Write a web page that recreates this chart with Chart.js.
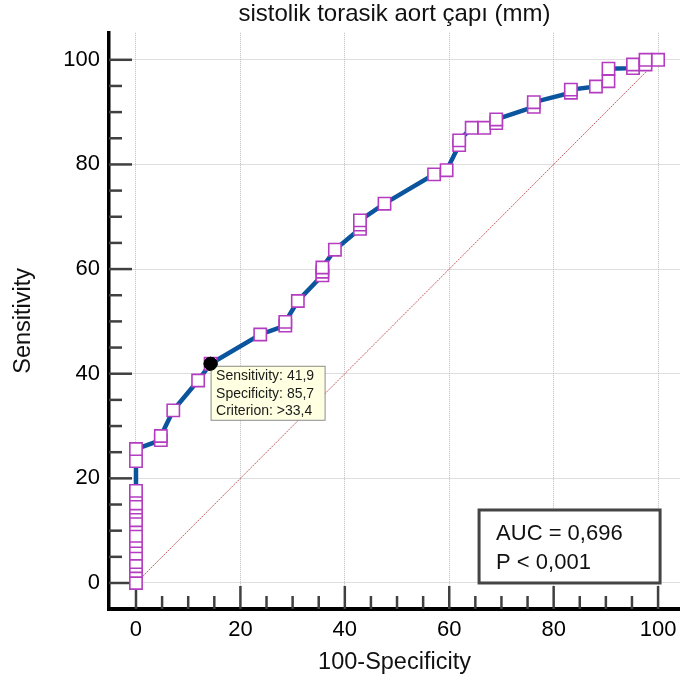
<!DOCTYPE html>
<html lang="tr">
<head>
    <meta charset="UTF-8">
    <title>ROC - sistolik torasik aort çapı</title>
    <script src="https://cdn.jsdelivr.net/npm/chart.js"></script>
    <style>
        body { margin: 0; background: #fff; }
        canvas { display: block; }
    </style>
</head>
<body>

<canvas id="rocChart" width="680" height="686"></canvas>

<script>
    // ROC points (100-Specificity, Sensitivity)
    const rocX = [0, 0, 0, 0, 0, 0, 0, 0, 0, 0, 0, 0, 0, 0, 0, 0, 0,
        4.76, 4.76, 7.14, 11.9, 14.29, 23.8, 28.6, 28.6, 31.0,
        35.7, 35.7, 35.7, 38.1, 42.9, 42.9, 42.9, 47.6, 57.1, 59.5,
        61.9, 61.9, 64.3, 66.7, 69.0, 69.0, 76.2, 76.2, 83.3, 83.3,
        88.1, 90.5, 90.5, 95.2, 95.2, 97.6, 97.6, 100];
    const rocY = [0, 2.3, 3.2, 4.0, 5.6, 7.0, 8.0, 9.0, 11.2, 12.0, 13.6, 14.4, 15.2, 16.9, 17.6, 23.3, 25.6,
        27.3, 28.1, 33.0, 38.7, 41.9, 47.5, 49.2, 49.9, 53.9,
        58.8, 59.5, 60.3, 63.7, 67.7, 68.5, 69.3, 72.5, 78.1, 78.9,
        83.7, 84.6, 87.0, 87.0, 87.9, 88.6, 91.0, 91.9, 93.7, 94.3,
        94.9, 95.9, 98.3, 98.4, 99.1, 99.1, 100, 100];

    const diagX = [0, 100];
    const diagY = [0, 100];

    // selected criterion
    const cutX = [14.29];
    const cutY = [41.9];
    const cutLabels = ['Sensitivity: 41,9', 'Specificity: 85,7', 'Criterion: >33,4'];

    const statLabels = ['AUC = 0,696', 'P < 0,001'];

    const xTicks = [0, 20, 40, 60, 80, 100];
    const yTicks = [0, 20, 40, 60, 80, 100];
    const minorStep = 5;

    const FONT = "'Liberation Sans', Arial, sans-serif";
    Chart.defaults.font.family = FONT;

    const toPoints = (xs, ys) => xs.map((x, i) => ({ x: x, y: ys[i] }));

    // inward tick marks on both axes
    const innerTicks = {
        id: 'innerTicks',
        beforeDatasetsDraw(chart) {
            const { ctx, chartArea, scales } = chart;
            ctx.save();
            ctx.strokeStyle = '#404040';
            ctx.lineWidth = 2.5;
            for (let v = 0; v <= 100; v += minorStep) {
                const len = v % 20 === 0 ? 23 : 13;
                const px = scales.x.getPixelForValue(v);
                ctx.beginPath();
                ctx.moveTo(px, chartArea.bottom);
                ctx.lineTo(px, chartArea.bottom - len);
                ctx.stroke();
                const py = scales.y.getPixelForValue(v);
                ctx.beginPath();
                ctx.moveTo(chartArea.left, py);
                ctx.lineTo(chartArea.left + len, py);
                ctx.stroke();
            }
            ctx.restore();
        }
    };

    // criterion box, AUC box
    const annotations = {
        id: 'annotations',
        afterDatasetsDraw(chart) {
            const { ctx, scales } = chart;
            ctx.save();

            // criterion info box
            const bx = scales.x.getPixelForValue(cutX[0]);
            const by = scales.y.getPixelForValue(cutY[0]) + 2;
            ctx.fillStyle = '#ffffe1';
            ctx.fillRect(bx, by, 114, 54);
            ctx.strokeStyle = '#8c8c8c';
            ctx.lineWidth = 1;
            ctx.strokeRect(bx + 0.5, by + 0.5, 114, 54);
            ctx.fillStyle = '#1a1a1a';
            ctx.font = '14px ' + FONT;
            ctx.textBaseline = 'alphabetic';
            cutLabels.forEach((t, i) => ctx.fillText(t, bx + 5.5, by + 14.5 + i * 17.3));

            // black dot back on top of the box
            chart.getDatasetMeta(0).data[0].draw(ctx);

            // AUC box
            const right = scales.x.getPixelForValue(100) + 2;
            const bottom = scales.y.getPixelForValue(0);
            const w = 181, h = 73;
            ctx.fillStyle = '#fff';
            ctx.fillRect(right - w, bottom - h, w, h);
            ctx.strokeStyle = '#444';
            ctx.lineWidth = 3;
            ctx.strokeRect(right - w, bottom - h, w, h);
            ctx.fillStyle = '#111';
            ctx.font = '22px ' + FONT;
            statLabels.forEach((t, i) => ctx.fillText(t, right - w + 17, bottom - h + 30 + i * 29));

            ctx.restore();
        }
    };

    const ctx = document.getElementById('rocChart').getContext('2d');
    new Chart(ctx, {
        type: 'scatter',
        data: {
            datasets: [
                {
                    label: 'criterion',
                    data: toPoints(cutX, cutY),
                    pointStyle: 'circle',
                    pointRadius: 6.5,
                    backgroundColor: '#000',
                    borderColor: '#000',
                    order: 0
                },
                {
                    label: 'points',
                    data: toPoints(rocX, rocY),
                    pointStyle: 'rect',
                    pointRadius: 8.7,
                    backgroundColor: '#fff',
                    borderColor: '#b43cc0',
                    borderWidth: 1.6,
                    order: 1
                },
                {
                    label: 'ROC',
                    data: toPoints(rocX, rocY),
                    showLine: true,
                    borderColor: '#0b559f',
                    borderWidth: 4.5,
                    pointRadius: 0,
                    tension: 0,
                    order: 2
                },
                {
                    label: 'diagonal',
                    data: toPoints(diagX, diagY),
                    showLine: true,
                    borderColor: 'rgba(185, 65, 65, 0.85)',
                    borderWidth: 1,
                    borderDash: [2, 1],
                    pointRadius: 0,
                    order: 3
                }
            ]
        },
        options: {
            responsive: false,
            animation: false,
            devicePixelRatio: 1,
            layout: { padding: 0, autoPadding: false },
            plugins: {
                legend: { display: false },
                tooltip: { enabled: false },
                title: {
                    display: true,
                    text: 'sistolik torasik aort çapı (mm)',
                    fullSize: false,
                    color: '#111',
                    font: { size: 24, weight: 'normal' },
                    padding: { top: 0, bottom: 4 }
                }
            },
            scales: {
                x: {
                    type: 'linear',
                    min: -5.17,
                    max: 104.2,
                    afterBuildTicks: s => { s.ticks = xTicks.map(v => ({ value: v })); },
                    afterFit: s => { s.height = 77; s.paddingLeft = 0; s.paddingRight = 0; },
                    ticks: { color: '#000', font: { size: 22 }, padding: 8, maxRotation: 0 },
                    grid: { color: '#bdbdbd', lineWidth: 1, drawTicks: false },
                    border: { display: true, color: '#000', width: 4, dash: [1, 1] },
                    title: {
                        display: true,
                        text: '100-Specificity',
                        color: '#111',
                        font: { size: 23.5 },
                        padding: { top: 0, bottom: 9 }
                    }
                },
                y: {
                    type: 'linear',
                    min: -4.97,
                    max: 105.16,
                    afterBuildTicks: s => { s.ticks = yTicks.map(v => ({ value: v })); },
                    afterFit: s => { s.width = 109; s.paddingTop = 0; s.paddingBottom = 0; },
                    ticks: { color: '#000', font: { size: 22 }, padding: 9 },
                    grid: { color: '#bdbdbd', lineWidth: 1, drawTicks: false },
                    border: { display: true, color: '#000', width: 3.5, dash: [1, 1] },
                    title: {
                        display: true,
                        text: 'Sensitivity',
                        color: '#111',
                        font: { size: 23.5 },
                        padding: { top: 9, bottom: 0 }
                    }
                }
            }
        },
        plugins: [innerTicks, annotations]
    });
</script>

</body>
</html>
